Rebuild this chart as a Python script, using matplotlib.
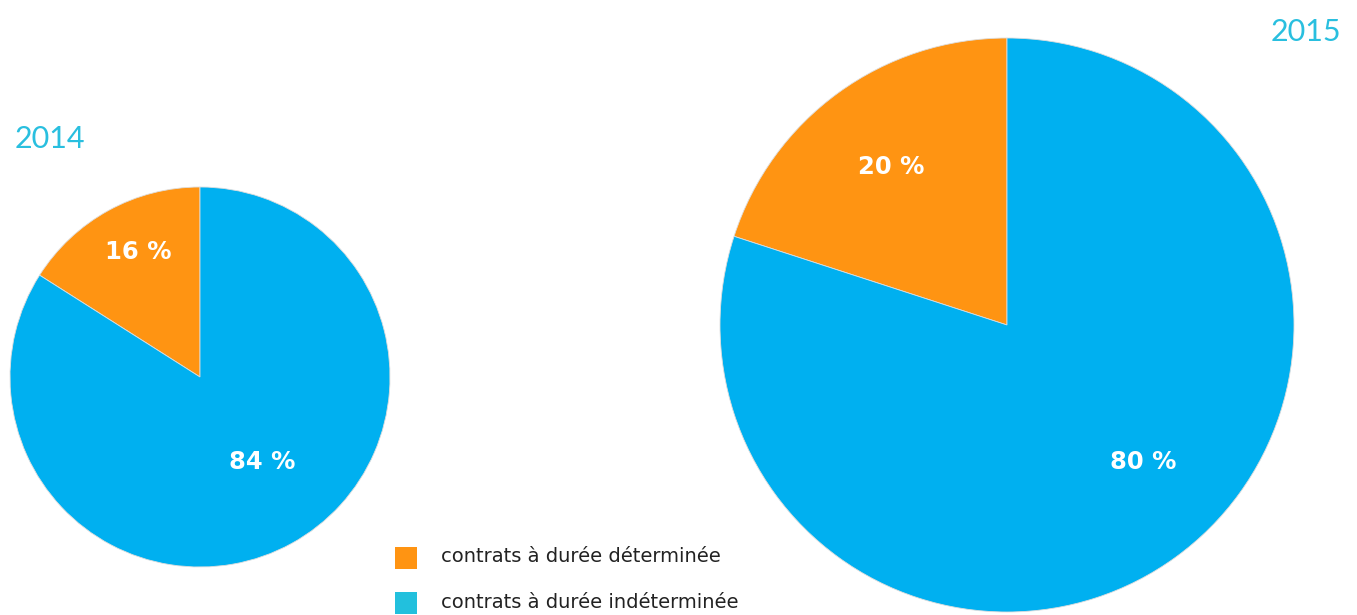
import matplotlib.pyplot as plt
import matplotlib.patches as patches

# data
years = ['2014', '2015']
categories = ['contrats à durée déterminée', 'contrats à durée indéterminée']
shares_2014 = [16, 84]
shares_2015 = [20, 80]

# colours
orange = '#FF9412'
blue = '#00B0F0'
title_cyan = '#29BFDF'
legend_cyan = '#22C0DD'

W, H = 1357, 615
fig = plt.figure(figsize=(W / 100, H / 100), dpi=100)
ax = fig.add_axes([0, 0, 1, 1])

# pies: center (px, y up), radius, label offsets
pies = [
    (shares_2014, (200, H - 377), 190, [(-62, 125), (62, -85)]),
    (shares_2015, (1007, H - 325), 287, [(-116, 158), (136, -137)]),
]

for shares, center, r, offs in pies:
    ax.pie(shares, colors=[orange, blue], startangle=90, counterclock=True,
           center=center, radius=r, wedgeprops=dict(linewidth=0.6, edgecolor='#dddddd'))
    for val, (dx, dy) in zip(shares, offs):
        ax.text(center[0] + dx, center[1] + dy, f'{val} %', ha='center', va='center',
                fontsize=17.5, fontweight='bold', color='white', family='DejaVu Sans')

ax.set_xlim(0, W)
ax.set_ylim(0, H)
ax.set_aspect('equal')
ax.axis('off')

# year titles
ax.text(15, H - 139, years[0], ha='left', va='center', fontsize=22,
        color=title_cyan, family='Lato')
ax.text(1341, H - 32, years[1], ha='right', va='center', fontsize=22,
        color=title_cyan, family='Lato')

# legend
for (ytop, col, lab) in [(547, orange, categories[0]), (592, legend_cyan, categories[1])]:
    ax.add_patch(patches.Rectangle((395, H - ytop - 22), 22, 22, facecolor=col, edgecolor='none'))
    ax.text(441, H - ytop - 10, lab, ha='left', va='center', fontsize=14,
            color='#222222', family='DejaVu Sans')

fig.savefig('out.png', dpi=100, facecolor='white')
